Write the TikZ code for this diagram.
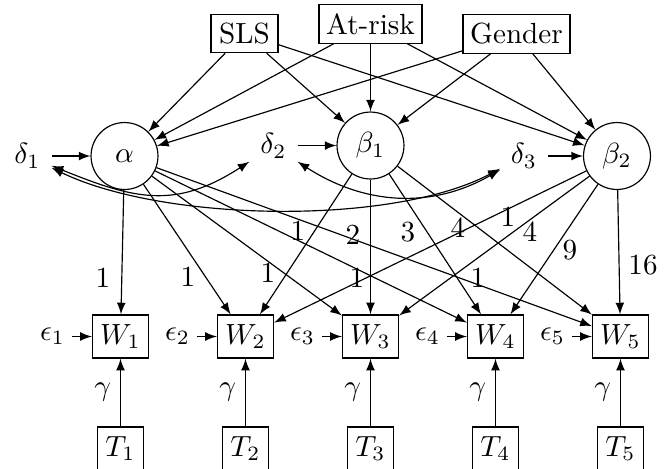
\documentclass[tikz,border=0pt]{standalone}
\usetikzlibrary{arrows}
\begin{document}
\begin{tikzpicture}[x=0.343pt,y=-0.343pt,
  box/.style={draw, inner sep=0pt, minimum height=13.15pt},
  obs/.style={draw, inner sep=0pt, minimum width=19.25pt, minimum height=14.77pt},
  tbox/.style={draw, inner sep=0pt, minimum width=15.82pt, minimum height=14.77pt},
  lat/.style={draw, circle, inner sep=0pt, minimum size=22.96pt},
  dist/.style={inner sep=3.6pt},
  err/.style={inner sep=2.2pt},
  lbl/.style={inner sep=0pt},
  arr/.style={-latex},
  cov/.style={latex-latex},
  gam/.style={left, inner sep=3pt}]
\path[use as bounding box] (0,0) rectangle (667,468);
\clip (0,0) rectangle (667,468);
% exogenous covariates
\node[box, minimum width=22.96pt] (sls) at (244.5,33.5) {SLS};
\node[box, minimum width=35.35pt] (risk) at (370.5,24) {At-risk};
\node[box, minimum width=36.68pt] (gen) at (516.5,34) {Gender};
% latent growth factors
\node[lat] (a) at (124.5,156) {$\alpha$};
\node[lat] (b1) at (370.5,145.5) {$\beta_1$};
\node[lat] (b2) at (617,156) {$\beta_2$};
% disturbances
\node[dist] (d1) at (27.5,156) {$\delta_1$};
\node[dist] (d2) at (273.5,146) {$\delta_2$};
\node[dist] (d3) at (524,156) {$\delta_3$};
\draw[arr] (d1) -- (a);
\draw[arr] (d2.east |- b1) -- (b1);
\draw[arr] (d3) -- (b2);
% observed measures, times, errors
\foreach \i/\x in {1/120.5,2/245.5,3/370.5,4/495.5,5/620.5}{
  \node[obs] (w\i) at (\x,336.5) {$W_\i$};
  \node[tbox] (t\i) at (\x,448.5) {$T_\i$};
  \node[err] (e\i) at (\x-68,336.5) {$\epsilon_\i$};
  \draw[arr] (e\i) -- (w\i);
  \draw[arr] (t\i) -- node[gam] (g\i) {$\gamma$} (w\i);
}
% covariates to growth factors
\foreach \s in {sls,risk,gen}{
  \foreach \l in {a,b1,b2}{
    \draw[arr] (\s) -- (\l);
  }
}
% loadings
\foreach \j in {1,...,5}{\draw[arr] (a) -- (w\j);}
\foreach \j in {2,...,5}{\draw[arr] (b1) -- (w\j);}
\foreach \j in {2,...,5}{\draw[arr] (b2) -- (w\j);}
% loading labels
\node[lbl] (la1) at (103,278) {1};
\node[lbl] (la2) at (188,277) {1};
\node[lbl] (la3) at (268,273) {1};
\node[lbl] (la4) at (357,278) {1};
\node[lbl] (la5) at (478,278) {1};
\node[lbl] (lb2) at (298,231) {1};
\node[lbl] (lb3) at (353,235) {2};
\node[lbl] (lb4) at (408,232) {3};
\node[lbl] (lb5) at (458,228) {4};
\node[lbl] (lc2) at (508,217) {1};
\node[lbl] (lc3) at (530,232) {4};
\node[lbl] (lc4) at (570,250) {9};
\node[lbl] (lc5) at (643,265) {16};
% disturbance covariances
\draw[cov] (d1) to[out=-22,in=-147,looseness=1.15] (d2);
\draw[cov] (d1) to[out=-26,in=-152,looseness=0.7] (d3);
\draw[cov] (d2) to[out=-33,in=-150] (d3);
\end{tikzpicture}
\end{document}
